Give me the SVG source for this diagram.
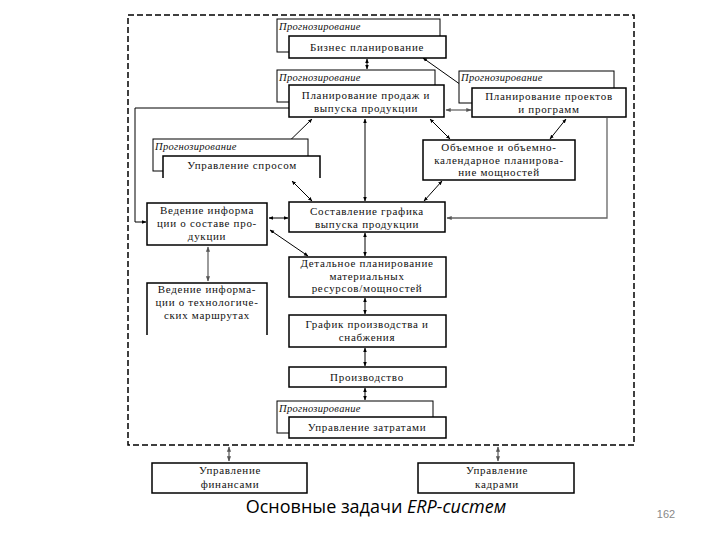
<svg xmlns="http://www.w3.org/2000/svg" width="720" height="540" viewBox="0 0 720 540">
<defs>
<marker id="a" viewBox="0 0 10 10" refX="9" refY="5" markerWidth="4.5" markerHeight="4.5" orient="auto-start-reverse"><path d="M0,1 L10,5 L0,9 z" fill="#000"/></marker>
<marker id="g" viewBox="0 0 10 10" refX="9" refY="5" markerWidth="4" markerHeight="4" orient="auto-start-reverse"><path d="M0,1 L10,5 L0,9 z" fill="#555"/></marker>
<style>
.t{font-family:"Liberation Serif","DejaVu Serif",serif;font-size:11px;letter-spacing:0.7px;fill:#111;text-anchor:middle}
.p{font-family:"Liberation Serif","DejaVu Serif",serif;font-size:10.5px;font-style:italic;letter-spacing:0.3px;fill:#111}
.bk{fill:#fff;stroke:#000;stroke-width:1}
.fr{fill:#fff;stroke:#000;stroke-width:1.5}
.c{fill:none;stroke:#000;stroke-width:1;marker-start:url(#a);marker-end:url(#a)}
.cg{fill:none;stroke:#666;stroke-width:1.3;marker-start:url(#g);marker-end:url(#g)}
.l{fill:none;stroke:#000;stroke-width:1}
</style>
</defs>
<rect width="720" height="540" fill="#fff"/>
<rect x="128" y="15" width="506" height="430" fill="none" stroke="#000" stroke-width="1.5" stroke-dasharray="6,3"/>

<g id="connectors">
<line class="c" x1="367" y1="59" x2="367" y2="69"/>
<line class="c" x1="423" y1="58" x2="471" y2="92"/>
<line class="cg" x1="446" y1="110" x2="471" y2="110"/>
<polyline class="l" points="289,108 135,108 135,222 146,222" marker-end="url(#a)"/>
<polyline points="607,118 607,218 447,218" style="fill:none;stroke:#666;stroke-width:1.3" marker-end="url(#g)"/>
<line class="c" x1="312" y1="119" x2="275" y2="155"/>
<line class="c" x1="292" y1="181" x2="312" y2="201"/>
<line class="c" x1="365" y1="119" x2="365" y2="201"/>
<line class="c" x1="430" y1="119" x2="450" y2="139"/>
<line class="c" x1="442" y1="181" x2="424" y2="201"/>
<line class="c" x1="566" y1="119" x2="550" y2="139"/>
<line class="c" x1="269" y1="218" x2="288" y2="218"/>
<line class="c" x1="270" y1="230" x2="308" y2="256"/>
<line class="cg" x1="208" y1="247" x2="208" y2="281"/>
<line class="c" x1="365" y1="233" x2="365" y2="256"/>
<line class="c" x1="365" y1="298" x2="365" y2="314"/>
<line class="c" x1="365" y1="348" x2="365" y2="366"/>
<line class="c" x1="365" y1="388" x2="365" y2="400"/>
<line class="cg" x1="229" y1="447" x2="229" y2="461"/>
<line class="cg" x1="498" y1="447" x2="498" y2="461"/>
</g>

<g id="biz">
<rect class="bk" x="277" y="19" width="163" height="33"/>
<text class="p" x="279" y="30">Прогнозирование</text>
<rect class="fr" x="289" y="36" width="157" height="22"/>
<text class="t" x="367" y="51">Бизнес планирование</text>
</g>

<g id="sales">
<rect class="bk" x="277" y="70" width="158" height="32"/>
<text class="p" x="279" y="81">Прогнозирование</text>
<rect class="fr" x="289" y="85" width="155" height="32"/>
<text class="t" x="366" y="99">Планирование продаж и</text>
<text class="t" x="366" y="112">выпуска продукции</text>
</g>

<g id="projects">
<rect class="bk" x="459" y="71" width="155" height="32"/>
<text class="p" x="461" y="81">Прогнозирование</text>
<rect class="fr" x="472" y="88" width="154" height="29"/>
<text class="t" x="549" y="100">Планирование проектов</text>
<text class="t" x="549" y="113">и программ</text>
</g>

<g id="demand">
<rect class="bk" x="153" y="139" width="155" height="32"/>
<text class="p" x="155" y="150">Прогнозирование</text>
<path d="M163,178 V156 H320 V178" fill="#fff" stroke="#000" stroke-width="1.5"/>
<text class="t" x="242" y="169">Управление спросом</text>
</g>

<g id="capacity">
<rect class="fr" x="423" y="140" width="152" height="40"/>
<text class="t" x="499" y="151">Объемное и объемно-</text>
<text class="t" x="499" y="163.5">календарное планирова-</text>
<text class="t" x="499" y="176">ние мощностей</text>
</g>

<g id="bom">
<rect class="fr" x="147" y="203" width="120" height="42"/>
<text class="t" x="207" y="214">Ведение информа</text>
<text class="t" x="207" y="227">ции о составе про-</text>
<text class="t" x="207" y="240">дукции</text>
</g>

<g id="schedule">
<rect class="fr" x="289" y="202" width="156" height="30"/>
<text class="t" x="367" y="215">Составление графика</text>
<text class="t" x="367" y="228">выпуска продукции</text>
</g>

<g id="routing">
<path d="M147,335 V283 H267 V335" fill="#fff" stroke="#000" stroke-width="1.5"/>
<text class="t" x="207" y="293">Ведение информа-</text>
<text class="t" x="207" y="306">ции о технологиче-</text>
<text class="t" x="207" y="319">ских маршрутах</text>
</g>

<g id="mrp">
<rect class="fr" x="289" y="257" width="157" height="40"/>
<text class="t" x="367" y="267">Детальное планирование</text>
<text class="t" x="367" y="279.5">материальных</text>
<text class="t" x="367" y="292">ресурсов/мощностей</text>
</g>

<g id="supply">
<rect class="fr" x="289" y="315" width="157" height="32"/>
<text class="t" x="367" y="328">График производства и</text>
<text class="t" x="367" y="341">снабжения</text>
</g>

<g id="production">
<rect class="fr" x="289" y="367" width="157" height="20"/>
<text class="t" x="367" y="381">Производство</text>
</g>

<g id="costs">
<rect class="bk" x="277" y="401" width="156" height="32"/>
<text class="p" x="279" y="412">Прогнозирование</text>
<rect class="fr" x="289" y="417" width="157" height="21"/>
<text class="t" x="367" y="431">Управление затратами</text>
</g>

<g id="finance">
<rect class="fr" x="152" y="463" width="155" height="30"/>
<text class="t" x="230" y="474">Управление</text>
<text class="t" x="230" y="488">финансами</text>
</g>

<g id="hr">
<rect class="fr" x="418" y="463" width="156" height="30"/>
<text class="t" x="497" y="474">Управление</text>
<text class="t" x="497" y="488">кадрами</text>
</g>

<text x="376" y="513" style="font-family:'Open Sans','Liberation Sans',sans-serif;font-size:18px;fill:#000;text-anchor:middle">Основные задачи <tspan font-style="italic">ERP-систем</tspan></text>
<text x="666" y="518" style="font-family:'Liberation Sans',sans-serif;font-size:11px;fill:#888;text-anchor:middle">162</text>
</svg>
